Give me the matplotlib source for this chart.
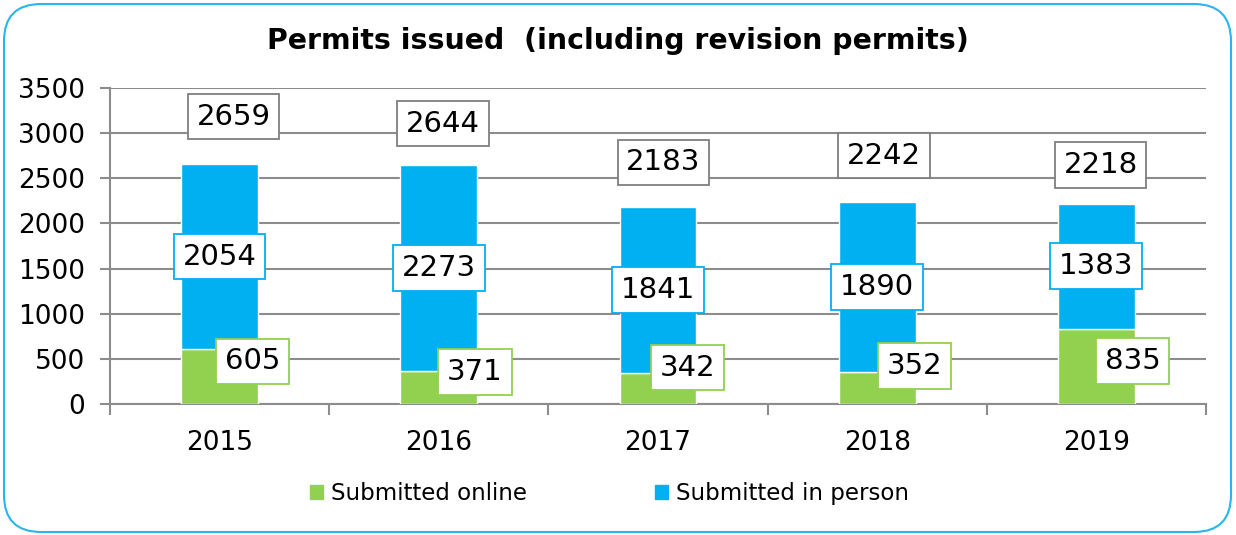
import matplotlib.pyplot as plt
from matplotlib.patches import Patch, FancyBboxPatch
import numpy as np

# data
years = ['2015', '2016', '2017', '2018', '2019']
online = [605, 371, 342, 352, 835]
in_person = [2054, 2273, 1841, 1890, 1383]
totals = [a + b for a, b in zip(online, in_person)]

green = '#92D050'
blue = '#00B0F0'
grid_col = '#8C8C8C'

plt.rcParams['font.family'] = 'DejaVu Sans'

fig = plt.figure(figsize=(12.36, 5.35), dpi=100)
ax = fig.add_axes([110 / 1236, 131 / 535, 1096 / 1236, 316 / 535])

x = np.arange(len(years))
w = 0.35
ax.bar(x, online, w, color=green, edgecolor='white', linewidth=1, zorder=3)
ax.bar(x, in_person, w, bottom=online, color=blue, edgecolor='white', linewidth=1, zorder=3)

ax.set_xlim(-0.5, 4.5)
ax.set_ylim(0, 3500)
ax.set_yticks(np.arange(0, 3501, 500))
ax.set_xticks(x)
ax.set_xticklabels(years)
ax.set_xticks(np.arange(-0.5, 4.6, 1), minor=True)
ax.tick_params(axis='x', which='major', length=0, labelsize=19, pad=19)
ax.tick_params(axis='x', which='minor', length=8, width=1.5, color=grid_col, direction='out')
ax.tick_params(axis='y', length=7, width=1.5, color=grid_col, labelsize=19, pad=11)
ax.yaxis.grid(True, color=grid_col, linewidth=1.5, zorder=0)
for s in ['top', 'right']:
    ax.spines[s].set_visible(False)
for s in ['left', 'bottom']:
    ax.spines[s].set_color(grid_col)
    ax.spines[s].set_linewidth(1.5)

# label offsets (points) -- placement only
tot_off = [(10, 34), (3, 30), (4, 32), (5, 33), (3, 28)]
on_off = [(24, 11), (26, 11), (21, 15), (27, 16), (26, 4)]

for i in range(len(years)):
    ax.annotate(str(totals[i]), (x[i], totals[i]), xytext=tot_off[i], textcoords='offset points',
                ha='center', va='center', fontsize=21, zorder=5,
                bbox=dict(boxstyle='square,pad=0.3', fc='white', ec='#7F7F7F', lw=1.3))
    ax.annotate(str(in_person[i]), (x[i], online[i] + in_person[i] / 2), ha='center', va='center',
                fontsize=21, zorder=5,
                bbox=dict(boxstyle='square,pad=0.3', fc='white', ec=blue, lw=1.3))
    ax.annotate(str(online[i]), (x[i], online[i] / 2), xytext=on_off[i], textcoords='offset points',
                ha='center', va='center', fontsize=21, zorder=5,
                bbox=dict(boxstyle='square,pad=0.3', fc='white', ec=green, lw=1.3))

fig.text(0.5, 0.923, 'Permits issued  (including revision permits)', ha='center', va='center',
         fontsize=20.4, fontweight='bold')

handles = [Patch(color=green), Patch(color=blue)]
fig.legend(handles, ['Submitted online', 'Submitted in person'], loc='center',
           bbox_to_anchor=(0.493, 0.077), ncol=2, frameon=False, fontsize=16.5,
           handlelength=0.55, handleheight=0.55, handletextpad=0.35, columnspacing=5.6)

border = FancyBboxPatch((4 / 1236, 3 / 535), 1227 / 1236, 528 / 535,
                        boxstyle='round,pad=0,rounding_size=0.03', transform=fig.transFigure,
                        fc='none', ec='#29B5F0', lw=1.5, mutation_aspect=1236 / 535)
fig.patches.append(border)

fig.savefig('out.png', dpi=100, facecolor='white')
